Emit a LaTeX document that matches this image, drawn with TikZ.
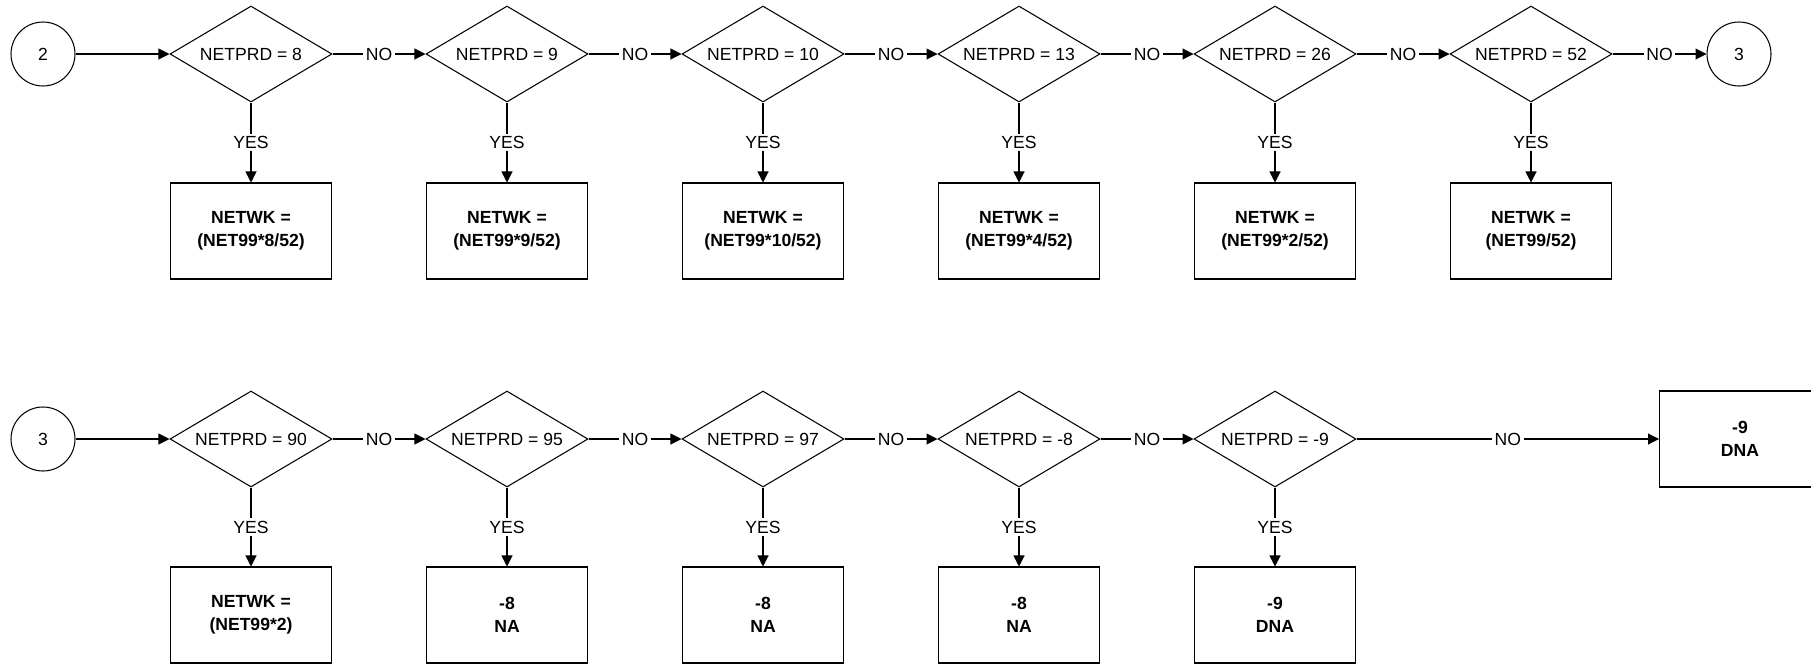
\documentclass[tikz,border=0pt]{standalone}
\usepackage{fontspec}
\setmainfont{Liberation Sans}
\usetikzlibrary{shapes.geometric, arrows.meta}

\begin{document}
\begin{tikzpicture}[x=0.02cm, y=-0.02cm, line width=0.6pt,
    every node/.style={font=\fontsize{10}{13}\selectfont, align=center},
    decision/.style={draw, diamond, aspect=1.69, inner sep=0pt, minimum width=3.24cm, minimum height=1.92cm},
    result/.style={draw, rectangle, minimum width=3.22cm, minimum height=1.92cm, font=\bfseries\fontsize{10}{13}\selectfont},
    link/.style={draw, circle, minimum size=1.28cm, inner sep=0pt},
    flow/.style={-{Triangle[length=2.2mm, width=2.2mm]}},
    tag/.style={fill=white, inner sep=1.5pt}]
    \useasboundingbox (0,0) rectangle (1811,663);

    % Row 1: Connector and Decisions
    \node[link] (c2) at (43, 54) {2};
    \node[decision] (d1) at (251, 54) {NETPRD = 8};
    \node[decision] (d2) at (507, 54) {NETPRD = 9};
    \node[decision] (d3) at (763, 54) {NETPRD = 10};
    \node[decision] (d4) at (1019, 54) {NETPRD = 13};
    \node[decision] (d5) at (1275, 54) {NETPRD = 26};
    \node[decision] (d6) at (1531, 54) {NETPRD = 52};
    \node[link] (c3a) at (1739, 54) {3};

    \node[result] (r1) at (251, 231) {NETWK = \\ (NET99*8/52)};
    \node[result] (r2) at (507, 231) {NETWK = \\ (NET99*9/52)};
    \node[result] (r3) at (763, 231) {NETWK = \\ (NET99*10/52)};
    \node[result] (r4) at (1019, 231) {NETWK = \\ (NET99*4/52)};
    \node[result] (r5) at (1275, 231) {NETWK = \\ (NET99*2/52)};
    \node[result] (r6) at (1531, 231) {NETWK = \\ (NET99/52)};

    \draw[flow] (c2) -- (d1);
    \draw[flow] (d1) -- node[tag] {NO} (d2);
    \draw[flow] (d2) -- node[tag] {NO} (d3);
    \draw[flow] (d3) -- node[tag] {NO} (d4);
    \draw[flow] (d4) -- node[tag] {NO} (d5);
    \draw[flow] (d5) -- node[tag] {NO} (d6);
    \draw[flow] (d6) -- node[tag] {NO} (c3a);

    \draw[flow] (d1) -- node[tag] {YES} (r1);
    \draw[flow] (d2) -- node[tag] {YES} (r2);
    \draw[flow] (d3) -- node[tag] {YES} (r3);
    \draw[flow] (d4) -- node[tag] {YES} (r4);
    \draw[flow] (d5) -- node[tag] {YES} (r5);
    \draw[flow] (d6) -- node[tag] {YES} (r6);

    % Row 2: Connector and Decisions
    \node[link] (c3b) at (43, 439) {3};
    \node[decision] (e1) at (251, 439) {NETPRD = 90};
    \node[decision] (e2) at (507, 439) {NETPRD = 95};
    \node[decision] (e3) at (763, 439) {NETPRD = 97};
    \node[decision] (e4) at (1019, 439) {NETPRD = -8};
    \node[decision] (e5) at (1275, 439) {NETPRD = -9};
    \node[result] (s6) at (1740, 439) {-9 \\ DNA};

    \node[result] (s1) at (251, 615) {NETWK = \\ (NET99*2)};
    \node[result] (s2) at (507, 615) {-8 \\ NA};
    \node[result] (s3) at (763, 615) {-8 \\ NA};
    \node[result] (s4) at (1019, 615) {-8 \\ NA};
    \node[result] (s5) at (1275, 615) {-9 \\ DNA};

    \draw[flow] (c3b) -- (e1);
    \draw[flow] (e1) -- node[tag] {NO} (e2);
    \draw[flow] (e2) -- node[tag] {NO} (e3);
    \draw[flow] (e3) -- node[tag] {NO} (e4);
    \draw[flow] (e4) -- node[tag] {NO} (e5);
    \draw[flow] (e5) -- node[tag] {NO} (s6);

    \draw[flow] (e1) -- node[tag] {YES} (s1);
    \draw[flow] (e2) -- node[tag] {YES} (s2);
    \draw[flow] (e3) -- node[tag] {YES} (s3);
    \draw[flow] (e4) -- node[tag] {YES} (s4);
    \draw[flow] (e5) -- node[tag] {YES} (s5);
\end{tikzpicture}
\end{document}
